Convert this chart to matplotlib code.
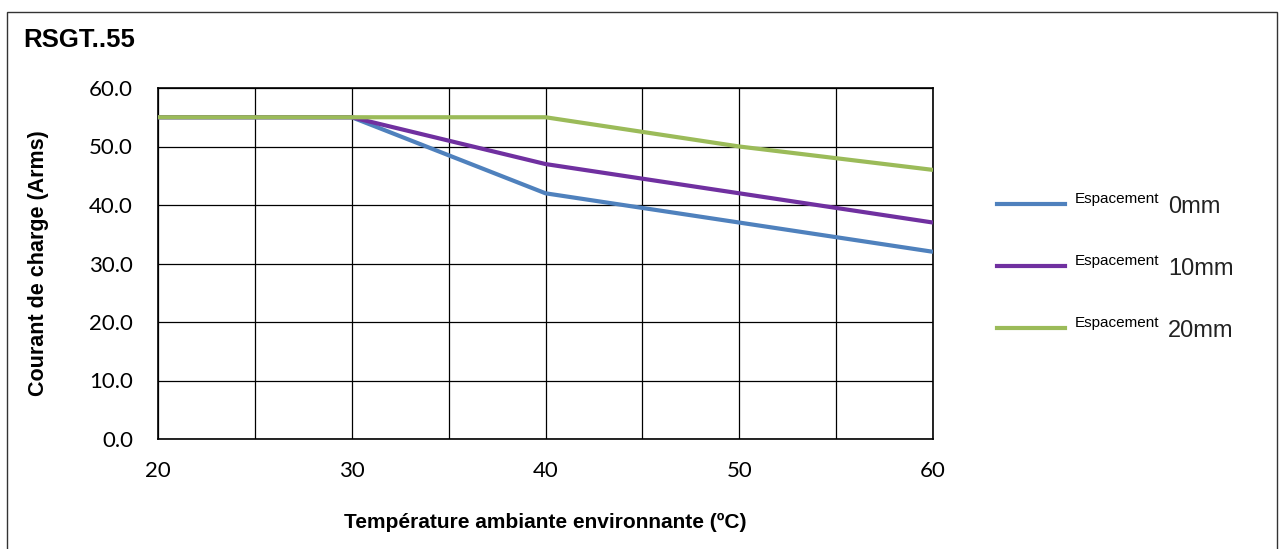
import matplotlib
matplotlib.use("Agg")
import matplotlib.pyplot as plt
from matplotlib.lines import Line2D
from matplotlib.patches import Rectangle

# temperatures and derating curves
temps = [20, 30, 40, 50, 60]
curr_0mm = [55, 55, 42, 37, 32]
curr_10mm = [55, 55, 47, 42, 37]
curr_20mm = [55, 55, 55, 50, 46]
spacings = ["0mm", "10mm", "20mm"]
colors = ["#4F81BD", "#7030A0", "#9BBB59"]

fig = plt.figure(figsize=(12.84, 5.49), dpi=100)
ax = fig.add_axes([158/1284, 1-439/549, (933-158)/1284, (439-88)/549])

for y, c in zip([curr_0mm, curr_10mm, curr_20mm], colors):
    ax.plot(temps, y, color=c, lw=3, solid_capstyle="butt", zorder=3)

ax.set_xlim(20, 60)
ax.set_ylim(0, 60)
ax.set_xticks([20, 30, 40, 50, 60])
ax.set_xticks([25, 35, 45, 55], minor=True)
ax.set_yticks(range(0, 61, 10))
ax.set_yticklabels(["%.1f" % v for v in range(0, 61, 10)])
ax.grid(True, which="both", color="black", lw=0.9)
ax.tick_params(which="both", length=0, labelsize=16)
ax.tick_params(axis="x", pad=16)
ax.tick_params(axis="y", pad=18)
for lab in ax.get_xticklabels() + ax.get_yticklabels():
    lab.set_family("Lato")
for s in ax.spines.values():
    s.set_color("black")
    s.set_linewidth(1.2)

ax.set_xlabel("Température ambiante environnante (ºC)", fontsize=15, fontweight="bold",
              family="Liberation Sans", va="center")
ax.xaxis.set_label_coords(0.5, (439-522)/351)
ax.set_ylabel("Courant de charge (Arms)", fontsize=15.5, fontweight="bold",
              family="Liberation Sans", va="center")
ax.yaxis.set_label_coords((38-158)/775, 0.5)
fig.text(23/1284, 1-40/549, "RSGT..55", fontsize=18.5, fontweight="bold",
         family="Liberation Sans", va="center", ha="left")

# legend drawn by hand (mixed font sizes)
for i, (lab, c) in enumerate(zip(spacings, colors)):
    ypx = 204 + 62*i
    yy = 1 - ypx/549
    fig.add_artist(Line2D([997/1284, 1065/1284], [yy, yy], color=c, lw=3,
                          transform=fig.transFigure))
    fig.text(1075/1284, 1 - (ypx - 1)/549, "Espacement", fontsize=11, family="Liberation Sans",
             va="baseline", ha="left")
    fig.text(1168/1284, 1 - (ypx + 9)/549, lab, fontsize=17, family="Liberation Sans",
             va="baseline", ha="left", color="#222222")

fig.add_artist(Rectangle((7/1284, -0.05), 1270/1284, 1.05 - 12/549, fill=False,
                         edgecolor="#333333", lw=1, transform=fig.transFigure))

fig.savefig("out.png", dpi=100)
